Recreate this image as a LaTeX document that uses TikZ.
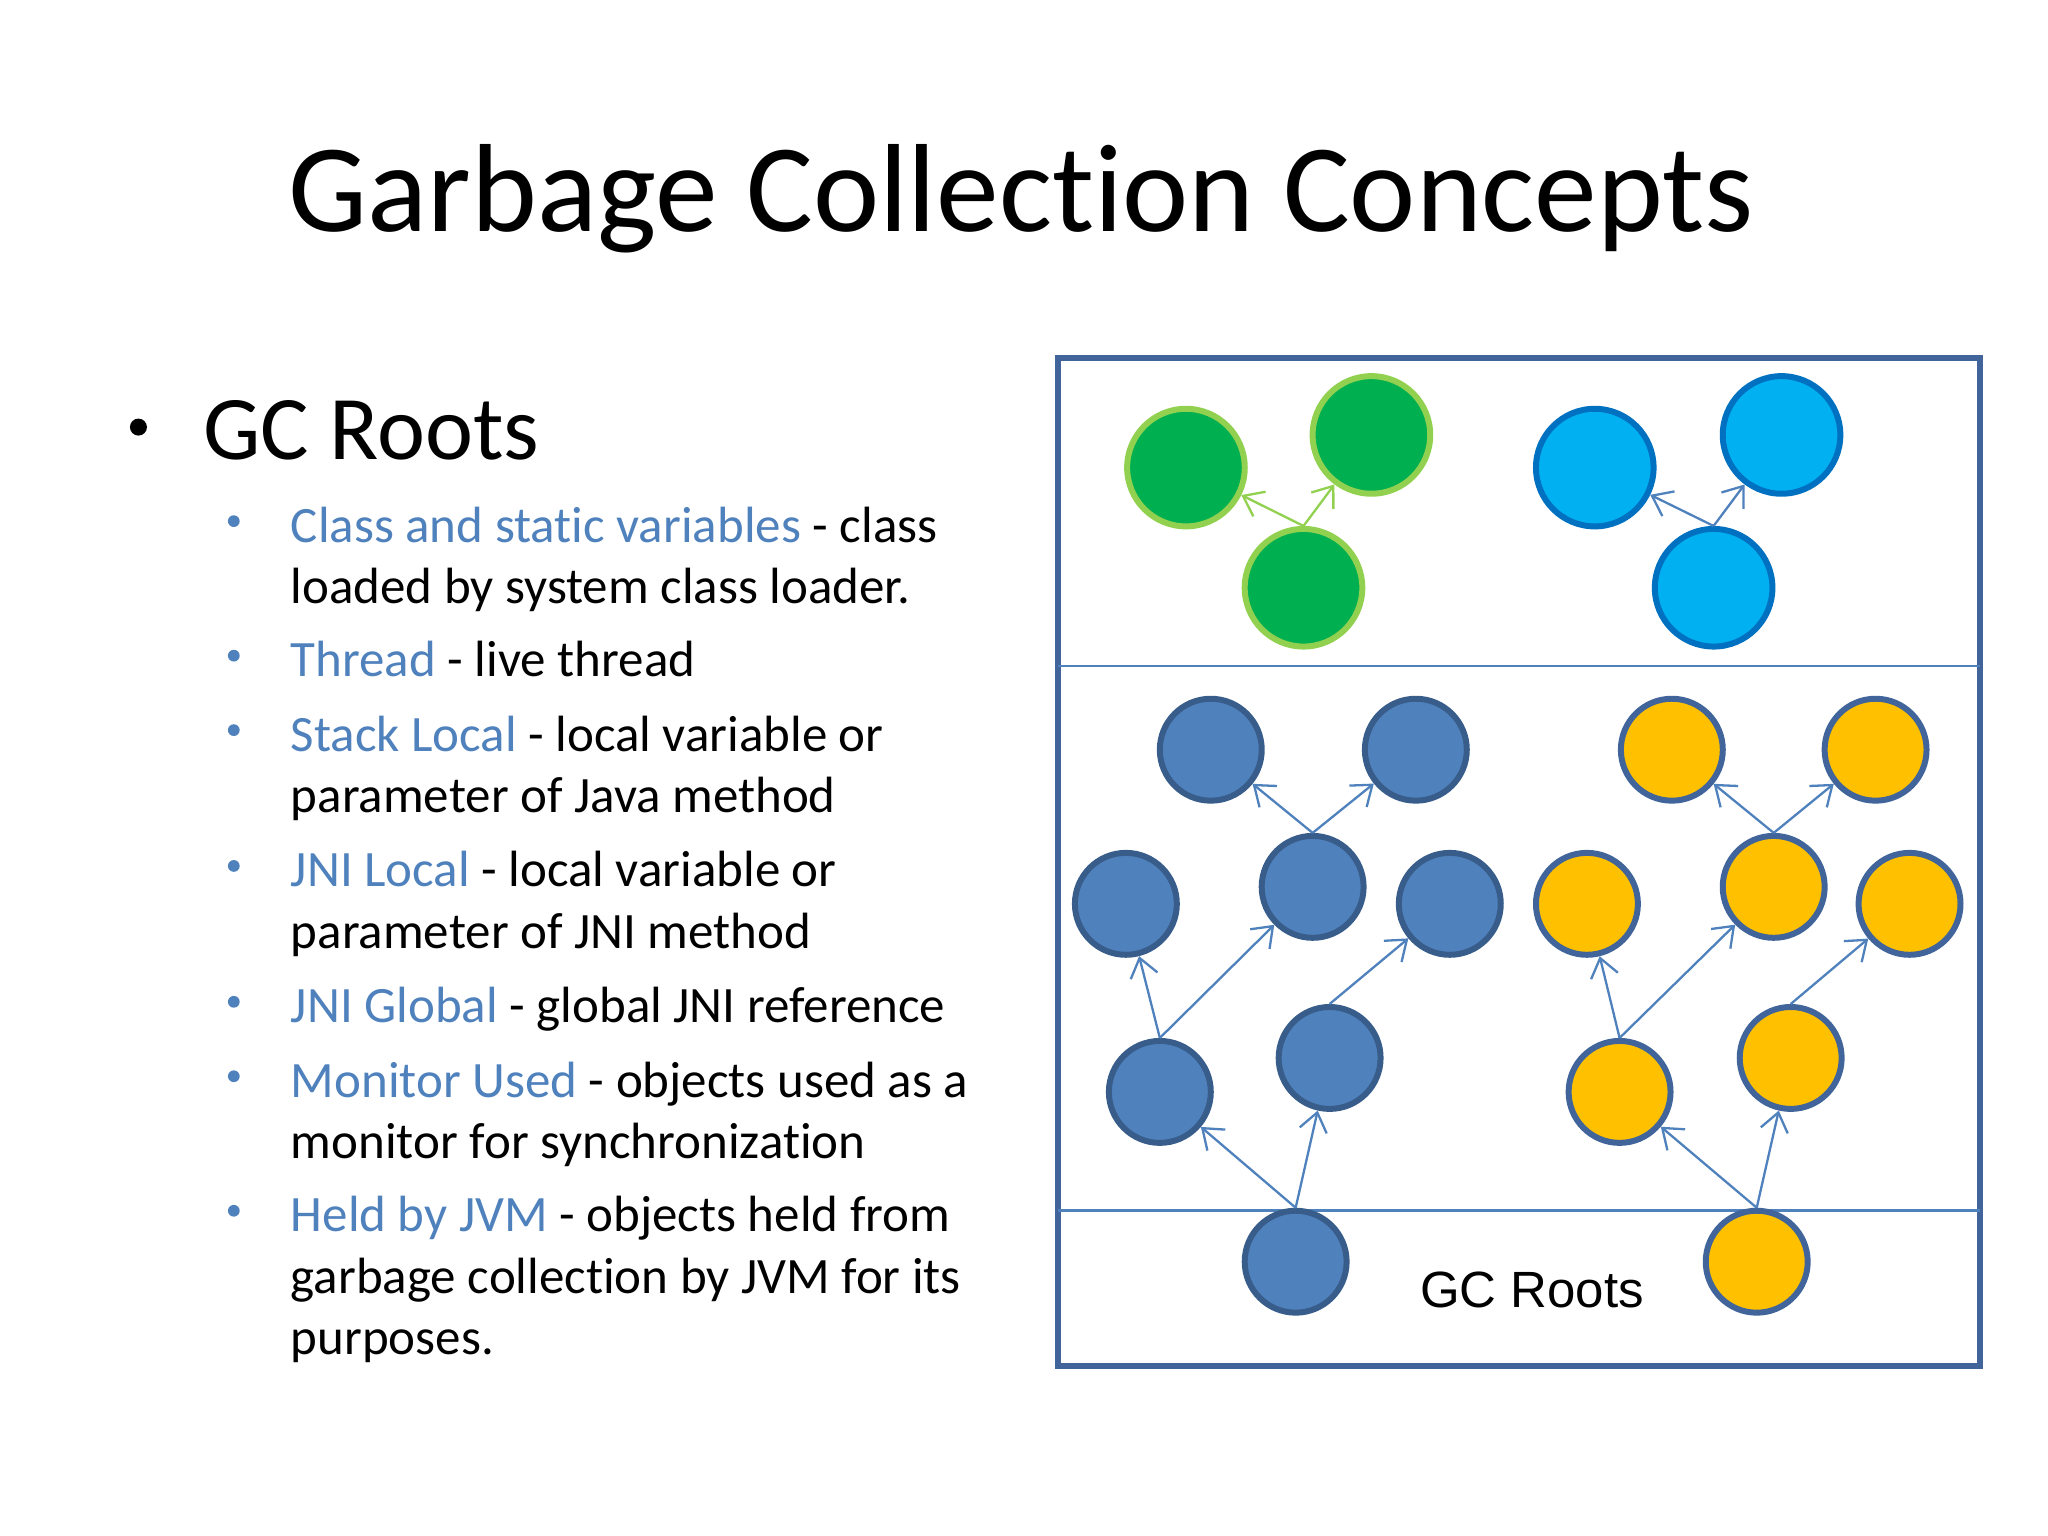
\documentclass[tikz,border=0pt]{standalone}
\usepackage{fontspec}
\setmainfont{Carlito}[Ligatures=NoCommon]
\newfontfamily\arialfont{Liberation Sans}
\usepackage{xcolor}
\usetikzlibrary{arrows.meta}
\definecolor{linkblue}{HTML}{4F81BD}
\definecolor{boxblue}{HTML}{41649A}
\definecolor{gfill}{HTML}{00B050}
\definecolor{gline}{HTML}{92D050}
\definecolor{cfill}{HTML}{00B0F0}
\definecolor{cline}{HTML}{0070C0}
\definecolor{bline}{HTML}{385D8A}
\definecolor{yfill}{HTML}{FFC000}
\begin{document}
\begin{tikzpicture}[x=0.01cm,y=-0.01cm,
    every node/.style={inner sep=0pt},
    txt/.style={anchor=base west, font=\fontsize{11.1}{13}\selectfont},
    arr/.style={-{Straight Barb[length=4pt,width=6pt]}, draw=linkblue, line width=0.5pt}
  ]
  \tikzstyle {green_circ} = [circle, minimum size=0.9cm, draw=gline, fill=gfill, line width=1.3pt]
  \tikzstyle {cyan_circ} = [circle, minimum size=0.9cm, draw=cline, fill=cfill, line width=1.3pt]
  \tikzstyle {blue_circ} = [circle, minimum size=0.78cm, draw=bline, fill=linkblue, line width=1.3pt]
  \tikzstyle {yel_circ} = [circle, minimum size=0.78cm, draw=boxblue, fill=yfill, line width=1.3pt]
  \newcommand{\hl}[1]{\textcolor{linkblue}{#1}}

  \useasboundingbox (0,0) rectangle (1568,1176);

  % title and text
  \node (title) at (782,152) {\fontsize{27.3}{33}\selectfont Garbage Collection Concepts};
  \node [circle, fill=black, minimum size=0.13cm] (dot) at (106,327) {};
  \node [anchor=base west] (roots) at (155,352) {\fontsize{19.8}{24}\selectfont GC Roots};
  \foreach \y in {415,518,575,679,783,840,943}
    \node [circle, fill=linkblue, minimum size=0.09cm] (b\y) at (179,\y-16) {};
  \node [txt] (l1) at (222,415) {\hl{Class and static variables} - class};
  \node [txt] (l2) at (222,462) {loaded by system class loader.};
  \node [txt] (l3) at (222,518) {\hl{Thread} - live thread};
  \node [txt] (l4) at (222,575) {\hl{Stack Local} - local variable or};
  \node [txt] (l5) at (222,622) {parameter of Java method};
  \node [txt] (l6) at (222,679) {\hl{JNI Local} - local variable or};
  \node [txt] (l7) at (222,726) {parameter of JNI method};
  \node [txt] (l8) at (222,783) {\hl{JNI Global} - global JNI reference};
  \node [txt] (l9) at (222,840) {\hl{Monitor Used} - objects used as a};
  \node [txt] (l10) at (222,887) {monitor for synchronization};
  \node [txt] (l11) at (222,943) {\hl{Held by JVM} - objects held from};
  \node [txt] (l12) at (222,990) {garbage collection by JVM for its};
  \node [txt] (l13) at (222,1037) {purposes.};

  % frame
  \draw [boxblue, line width=1.3pt] (810,274) rectangle (1516,1046);
  \draw [linkblue, line width=0.6pt] (810,510) -- (1516,510);
  \draw [linkblue, line width=0.6pt] (810,927) -- (1516,927);

  % unreachable groups
  \node [green_circ] (g1) at (908,358) {};
  \node [green_circ] (g2) at (1050,333) {};
  \node [green_circ] (g3) at (998,450) {};
  \node [cyan_circ] (c1) at (1221,358) {};
  \node [cyan_circ] (c2) at (1364,333) {};
  \node [cyan_circ] (c3) at (1312,450) {};
  \draw [arr, draw=gline] (g3.north) -- (g1);
  \draw [arr, draw=gline] (g3.north) -- (g2);
  \draw [arr] (c3.north) -- (c1);
  \draw [arr] (c3.north) -- (c2);

  % reachable blue
  \node [blue_circ] (bt1) at (927,574) {};
  \node [blue_circ] (bt2) at (1084,574) {};
  \node [blue_circ] (bm1) at (862,692) {};
  \node [blue_circ] (bm2) at (1005,679) {};
  \node [blue_circ] (bm3) at (1110,692) {};
  \node [blue_circ] (bl1) at (888,836) {};
  \node [blue_circ] (bl2) at (1018,810) {};
  \node [blue_circ] (br) at (992,966) {};
  \draw [arr] (br.north) -- (bl1);
  \draw [arr] (br.north) -- (bl2);
  \draw [arr] (bl1.north) -- (bm1);
  \draw [arr] (bl1.north) -- (bm2);
  \draw [arr] (bl2.north) -- (bm3);
  \draw [arr] (bm2.north) -- (bt1);
  \draw [arr] (bm2.north) -- (bt2);

  % reachable yellow
  \node [yel_circ] (yt1) at (1280,574) {};
  \node [yel_circ] (yt2) at (1436,574) {};
  \node [yel_circ] (ym1) at (1215,692) {};
  \node [yel_circ] (ym2) at (1358,679) {};
  \node [yel_circ] (ym3) at (1462,692) {};
  \node [yel_circ] (yl1) at (1240,836) {};
  \node [yel_circ] (yl2) at (1371,810) {};
  \node [yel_circ] (yr) at (1345,966) {};
  \draw [arr] (yr.north) -- (yl1);
  \draw [arr] (yr.north) -- (yl2);
  \draw [arr] (yl1.north) -- (ym1);
  \draw [arr] (yl1.north) -- (ym2);
  \draw [arr] (yl2.north) -- (ym3);
  \draw [arr] (ym2.north) -- (yt1);
  \draw [arr] (ym2.north) -- (yt2);

  \node (gclabel) at (1173,988) {\arialfont\fontsize{11.1}{13}\selectfont GC Roots};
\end{tikzpicture}
\end{document}
